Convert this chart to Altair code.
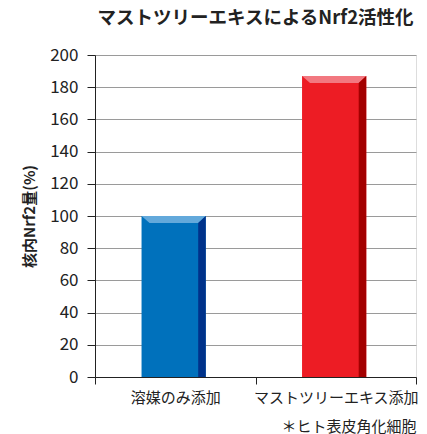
import altair as alt
import pandas as pd

categories = ["溶媒のみ添加", "マストツリーエキス添加"]
values = [100, 187]
main_colors = ["#0071BC", "#ED1C24"]
top_colors = ["#63A9DB", "#F27880"]
side_colors = ["#00328A", "#A30000"]
y_ticks = list(range(0, 201, 20))

FONT = "Noto Sans CJK JP"
# bar geometry within each unit-wide category slot (styling, not data)
L_OFF, R_OFF = 0.29, 0.69
D = 0.05      # diagonal width (x units)
H = 4.4       # top band height (y units)
S = 0.047     # side strip width (x units)

bars = pd.DataFrame({
    "cat": categories,
    "value": values,
    "L": [i + L_OFF for i in range(len(categories))],
    "R": [i + R_OFF for i in range(len(categories))],
    "color": main_colors,
})

top_rows, side_rows = [], []
for i, (c, v) in enumerate(zip(categories, values)):
    L, R = i + L_OFF, i + R_OFF
    for x, y2 in [(L, v), (L + D, v - H), (R - S, v - H), (R, v)]:
        top_rows.append({"cat": c, "x": x, "y": v, "y2": y2, "color": top_colors[i]})
    for x, y in [(R - S, v - H), (R, v)]:
        side_rows.append({"cat": c, "x": x, "y": y, "y2": 0, "color": side_colors[i]})
top = pd.DataFrame(top_rows)
side = pd.DataFrame(side_rows)

label_expr = " : ".join(
    [f"datum.value == {i + 0.5} ? '{c}'" for i, c in enumerate(categories)]
) + " : ''"

xscale = alt.Scale(domain=[0, 2], nice=False, zero=False)
yscale = alt.Scale(domain=[0, 200], nice=False)

xaxis = alt.Axis(
    values=[0, 0.5, 1, 1.5, 2], labelExpr=label_expr,
    tickOpacity={"condition": {"test": "datum.value % 1 === 0", "value": 1}, "value": 0},
    labelOverlap=False, labelFlush=False, labelBound=False,
    grid=False, tickSize=7, tickColor="#222", domainColor="#222",
    labelFontSize=15, labelColor="#222", labelFont=FONT, labelPadding=6,
    title="＊ヒト表皮角化細胞", titleAnchor="end", titleAlign="right",
    titleFontSize=15, titleFontWeight="normal", titleFont=FONT, titleColor="#222",
    titlePadding=14,
)
yaxis = alt.Axis(
    values=y_ticks, tickSize=8, tickColor="#222", domainColor="#222",
    gridColor="#9a9a9a", gridWidth=1, labelFontSize=17, labelColor="#222",
    labelFont=FONT, labelPadding=9, labelOverlap=False, title="核内Nrf2量(%)", titleFont=FONT,
    titleFontSize=15, titleFontWeight="bold", titleColor="#222", titlePadding=12,
)

base_bar = alt.Chart(bars).mark_rect().encode(
    x=alt.X("L:Q", scale=xscale, axis=xaxis),
    x2="R:Q",
    y=alt.Y("value:Q", scale=yscale, axis=yaxis),
    y2=alt.datum(0),
    color=alt.Color("color:N", scale=None),
)
top_area = alt.Chart(top).mark_area(interpolate="linear").encode(
    x=alt.X("x:Q", scale=xscale, axis=xaxis),
    y=alt.Y("y:Q", scale=yscale, axis=yaxis), y2="y2:Q",
    detail="cat:N", color=alt.Color("color:N", scale=None),
)
side_area = alt.Chart(side).mark_area(interpolate="linear").encode(
    x=alt.X("x:Q", scale=xscale, axis=xaxis),
    y=alt.Y("y:Q", scale=yscale, axis=yaxis), y2="y2:Q",
    detail="cat:N", color=alt.Color("color:N", scale=None),
)

chart = alt.layer(base_bar, top_area, side_area).properties(
    width=427, height=434,
    autosize=alt.AutoSizeParams(type="fit", contains="padding"),
    title=alt.TitleParams(
        "マストツリーエキスによるNrf2活性化", font=FONT, fontSize=18.5, fontWeight="bold",
        color="#222", anchor="middle", frame="group", offset=19,
    ),
    padding={"left": 22, "top": 8, "right": 10, "bottom": 0},
).configure_view(stroke=None).configure(background="white")

chart.save("out.html", embed_options={"renderer": "svg", "actions": False})
